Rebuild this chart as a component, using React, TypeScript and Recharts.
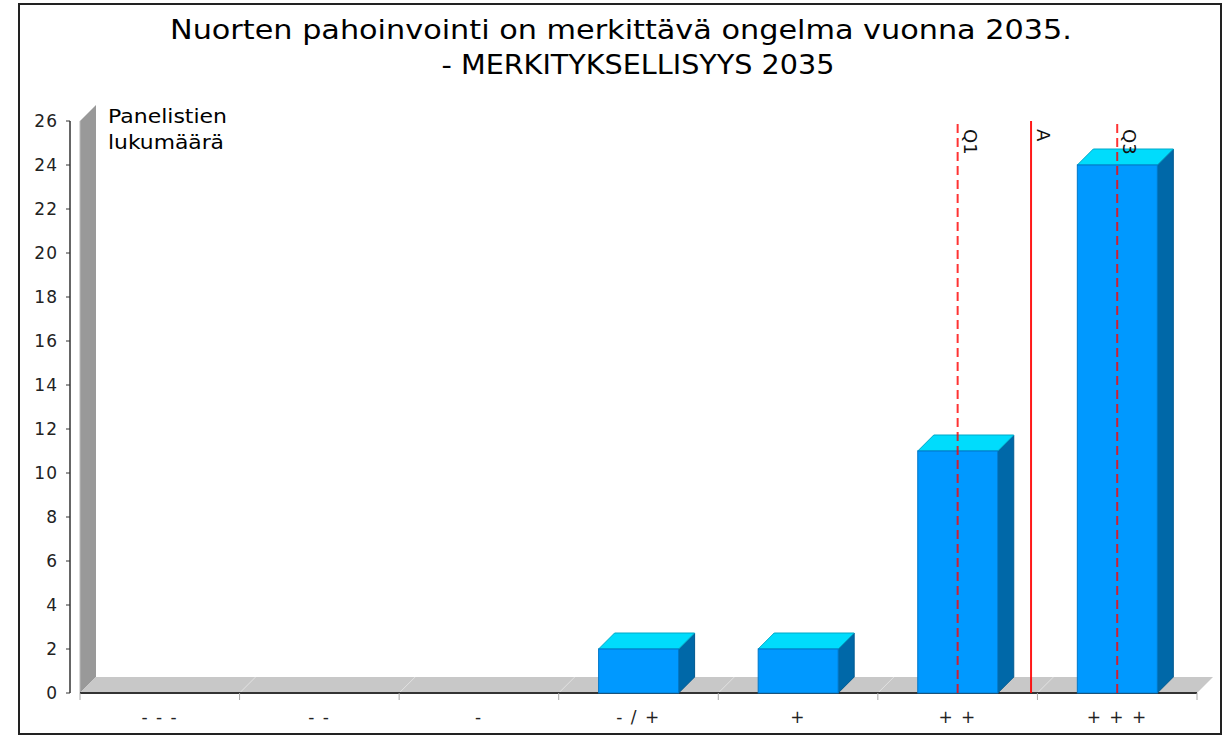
import React from "react";
import { ComposedChart, Bar, XAxis, YAxis, ReferenceLine, ReferenceArea } from "recharts";

const categories = ["- - -", "- -", "-", "- / +", "+", "+ +", "+ + +"];
const positions = [1, 2, 3, 4, 5, 6, 7];
const counts = [0, 0, 0, 2, 2, 11, 24];
const yTicks = [0, 2, 4, 6, 8, 10, 12, 14, 16, 18, 20, 22, 24, 26];
const refLabels = ["Q1", "A", "Q3"];
const refValues = [6, 6.46, 7];
const refDashed = [true, false, true];
const titleLines = ["Nuorten pahoinvointi on merkittävä ongelma vuonna 2035.", "- MERKITYKSELLISYYS 2035"];
const yAxisTitle = ["Panelistien", "lukumäärä"];

const data = categories.map((c, i) => ({ label: c, pos: positions[i], count: counts[i] }));

const FONT = "DejaVu Sans, Verdana, sans-serif";
const D = 16;

function Bar3D(props: any) {
  const { x, y, width, height, payload } = props;
  if (!payload || !payload.count || height <= 0) return null;
  const top = `${x},${y} ${x + D},${y - D} ${x + width + D},${y - D} ${x + width},${y}`;
  const side = `${x + width},${y} ${x + width + D},${y - D} ${x + width + D},${y + height - D} ${x + width},${y + height}`;
  return (
    <g>
      <polygon points={side} fill="#0068a8" stroke="#005a90" strokeWidth={1} />
      <polygon points={top} fill="#00dcfc" stroke="#00a8c8" strokeWidth={1} />
      <rect x={x} y={y} width={width} height={height} fill="#0099ff" stroke="#0077c8" strokeWidth={1} />
    </g>
  );
}

function Walls(props: any) {
  const { x, y, width, height } = props;
  const n = categories.length;
  const b = y + height;
  const bounds = Array.from({ length: n + 1 }, (_, i) => x + (i * width) / n);
  return (
    <g>
      <polygon points={`${x},${b} ${x},${y} ${x + D},${y - D} ${x + D},${b - D}`} fill="#999999" />
      <line x1={x} y1={y} x2={x} y2={b} stroke="#bbbbbb" strokeWidth={1} />
      <polygon points={`${x},${b} ${x + D},${b - D} ${x + width + D},${b - D} ${x + width},${b}`} fill="#c8c8c8" />
      {bounds.slice(1, n).map((bx, i) => (
        <line key={"d" + i} x1={bx} y1={b} x2={bx + D} y2={b - D} stroke="#e2e2e2" strokeWidth={1} />
      ))}
      <line x1={x} y1={b} x2={x + width} y2={b} stroke="#333333" strokeWidth={2} />
      {bounds.map((bx, i) => (
        <line key={"t" + i} x1={bx} y1={b} x2={bx} y2={b + 7} stroke="#aaaaaa" strokeWidth={1} />
      ))}
      <line x1={x - 10} y1={y} x2={x - 10} y2={b} stroke="#333333" strokeWidth={1.5} />
    </g>
  );
}

function YTick(props: any) {
  const { x, y, payload } = props;
  return (
    <g>
      <line x1={x + 8} y1={y} x2={x + 12} y2={y} stroke="#333" strokeWidth={1} />
      <text x={x} y={y} dy="0.36em" textAnchor="end" fontSize={17} fontFamily={FONT} fill="#222" letterSpacing={1}>
        {payload.value}
      </text>
    </g>
  );
}

function RefLabel(props: any) {
  const { viewBox, text } = props;
  if (!viewBox) return null;
  const lx = viewBox.x + 6;
  const ly = viewBox.y + 8;
  return (
    <text x={lx} y={ly} transform={`rotate(90, ${lx}, ${ly})`} fontSize={18} fontFamily={FONT} fill="#111" textAnchor="start">
      {text}
    </text>
  );
}

export default function App() {
  return (
    <div style={{ position: "absolute", left: 0, top: 0, width: 1224, height: 738, background: "#fff" }}>
      <ComposedChart width={1224} height={738} data={data} margin={{ top: 121, right: 27, bottom: 0, left: 0 }} barCategoryGap="25%">
        <XAxis dataKey="pos" type="number" domain={[0.5, 7.5]} ticks={positions} allowDataOverflow
          axisLine={false} tickLine={false} tickMargin={12} interval={0} height={45}
          tickFormatter={(v: number) => categories[v - 1]}
          tick={{ fill: "#222", fontSize: 17, fontFamily: FONT, letterSpacing: 1.5 }} />
        <YAxis type="number" domain={[0, 26]} ticks={yTicks} width={80} axisLine={false} tickLine={false} tickMargin={16}
          tick={<YTick />} interval={0} />
        <ReferenceArea x1={0.5} x2={7.5} y1={0} y2={26} shape={<Walls />} />
        <Bar dataKey="count" shape={<Bar3D />} isAnimationActive={false} />
        {refValues.map((v, i) => (
          <ReferenceLine key={refLabels[i]} x={v} stroke="#ff0000" strokeOpacity={refDashed[i] ? 0.8 : 0.9}
            strokeWidth={2} strokeDasharray={refDashed[i] ? "9 5" : undefined}
            label={<RefLabel text={refLabels[i]} />} />
        ))}
      </ComposedChart>
      <svg width={1224} height={738} style={{ position: "absolute", left: 0, top: 0, pointerEvents: "none" }}>
        <text x={621} y={39} textAnchor="middle" fontSize={26} fontFamily={FONT} fill="#000" textLength={902} lengthAdjust="spacingAndGlyphs">{titleLines[0]}</text>
        <text x={638} y={74} textAnchor="middle" fontSize={26} fontFamily={FONT} fill="#000" textLength={393} lengthAdjust="spacingAndGlyphs">{titleLines[1]}</text>
        <text x={108} y={123} fontSize={20} fontFamily={FONT} fill="#000" textLength={119} lengthAdjust="spacingAndGlyphs">{yAxisTitle[0]}</text>
        <text x={108} y={149} fontSize={20} fontFamily={FONT} fill="#000" textLength={116} lengthAdjust="spacingAndGlyphs">{yAxisTitle[1]}</text>
        <rect x={19} y={4} width={1202} height={730} fill="none" stroke="#222" strokeWidth={2} />
      </svg>
    </div>
  );
}
